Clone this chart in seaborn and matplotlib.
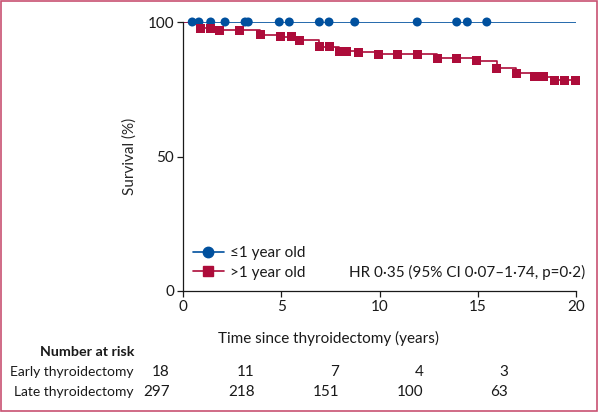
import numpy as np
import pandas as pd
import matplotlib
matplotlib.use("Agg")
import matplotlib.pyplot as plt
from matplotlib.lines import Line2D
from matplotlib.patches import Rectangle
import seaborn as sns

# censor marks (years, survival %)
early_censor_t = [0.47, 0.81, 1.41, 2.14, 3.16, 3.32, 4.90, 5.41, 6.94, 7.43,
                  8.74, 11.92, 13.93, 14.47, 15.46]
early_censor_s = [100] * len(early_censor_t)
late_censor_t = [0.90, 1.41, 1.88, 2.90, 3.92, 4.94, 5.51, 5.92, 6.94, 7.45,
                 7.95, 8.33, 8.92, 9.96, 10.91, 11.92, 12.94, 13.93, 14.95,
                 15.96, 16.95, 17.91, 18.34, 18.93, 19.44, 19.95]
late_censor_s = [97.7, 97.7, 96.9, 96.9, 95.3, 94.5, 94.5, 93.2, 90.8, 90.8,
                 89.1, 89.1, 88.7, 88.0, 88.0, 88.0, 86.5, 86.5, 85.6, 82.8,
                 80.9, 79.7, 79.7, 78.4, 78.4, 78.4]

risk_times = [0, 5, 10, 15, 20]
risk_early = [18, 11, 7, 4, 3]
risk_late = [297, 218, 151, 100, 63]

labels = ["\u22641 year old", ">1 year old"]
blue = "#00509E"
red = "#AD0C3A"
fs = 11

sns.set_style("ticks")
plt.rcParams["font.family"] = ["Lato", "DejaVu Sans"]
plt.rcParams["font.size"] = fs
plt.rcParams["text.color"] = "#1a1a1a"

# step curves: start at 100 at t=0, run through censor points, end at 20 years
curve = pd.concat([
    pd.DataFrame({"t": [0] + early_censor_t + [20],
                  "s": [100] + early_censor_s + [100], "g": labels[0]}),
    pd.DataFrame({"t": [0] + late_censor_t + [20],
                  "s": [100] + late_censor_s + [late_censor_s[-1]], "g": labels[1]}),
])
marks = pd.concat([
    pd.DataFrame({"t": early_censor_t, "s": early_censor_s, "g": labels[0]}),
    pd.DataFrame({"t": late_censor_t, "s": late_censor_s, "g": labels[1]}),
])
pal = {labels[0]: blue, labels[1]: red}

fig = plt.figure(figsize=(6, 4.18), dpi=100)
ax = fig.add_axes([183 / 600, 1 - 291 / 418, 393 / 600, 269 / 418])

sns.lineplot(data=curve, x="t", y="s", hue="g", palette=pal, ax=ax,
             drawstyle="steps-post", estimator=None, sort=False, lw=1.2,
             legend=False)
sns.scatterplot(data=marks, x="t", y="s", hue="g", style="g", palette=pal,
                markers={labels[0]: "o", labels[1]: "s"}, s=42, linewidth=0,
                ax=ax, legend=False, clip_on=False, zorder=3)

ax.set_xlim(0, 20)
ax.set_ylim(0, 100)
ax.set_xticks([0, 5, 10, 15, 20])
ax.set_yticks([0, 50, 100])
ax.tick_params(length=4, width=0.9, pad=2.5, labelsize=fs, colors="#1a1a1a")
ax.set_xlabel("")
ax.set_ylabel("Survival (%)", labelpad=8, fontsize=fs)
for sp in ["top", "right"]:
    ax.spines[sp].set_visible(False)
for sp in ["left", "bottom"]:
    ax.spines[sp].set_linewidth(0.9)
    ax.spines[sp].set_color("#1a1a1a")

handles = [Line2D([], [], color=blue, marker="o", ms=7.5, lw=1.2),
           Line2D([], [], color=red, marker="s", ms=7, lw=1.2)]
ax.legend(handles, labels, loc="lower left", bbox_to_anchor=(0.01, 0.02),
          frameon=False, handlelength=2.0, handletextpad=0.4,
          labelspacing=0.35, fontsize=fs, borderaxespad=0)
ax.text(1.023, 0.07, "HR 0\u00b735 (95% CI 0\u00b707\u20131\u00b774, p=0\u00b72)",
        transform=ax.transAxes, ha="right", va="center", fontsize=fs)

fig.text(328.5 / 600, 1 - 338 / 418, "Time since thyroidectomy (years)",
         ha="center", va="center", fontsize=fs)

# number-at-risk table on its own invisible axis
rax = fig.add_axes([170 / 600, 1 - 400 / 418, 338 / 600, 60 / 418])
rax.set_xlim(0, 20)
rax.set_ylim(400, 340)
rax.axis("off")
fig.text(134 / 600, 1 - 352 / 418, "Number at risk", ha="right", va="center",
         fontweight="bold", fontsize=10.3)
fig.text(134 / 600, 1 - 372 / 418, "Early thyroidectomy", ha="right",
         va="center", fontsize=10)
fig.text(134 / 600, 1 - 392 / 418, "Late thyroidectomy", ha="right",
         va="center", fontsize=10)
for t, a, b in zip(risk_times, risk_early, risk_late):
    rax.text(t, 372, str(a), ha="right", va="center", fontsize=fs)
    rax.text(t, 392, str(b), ha="right", va="center", fontsize=fs)

fig.patches.append(Rectangle((0.5 / 600, 1 - 411 / 418), 596.5 / 600, 410.5 / 418,
                             transform=fig.transFigure, fill=False,
                             edgecolor="#C85272", lw=1.2))

fig.savefig("out.png", dpi=100)
